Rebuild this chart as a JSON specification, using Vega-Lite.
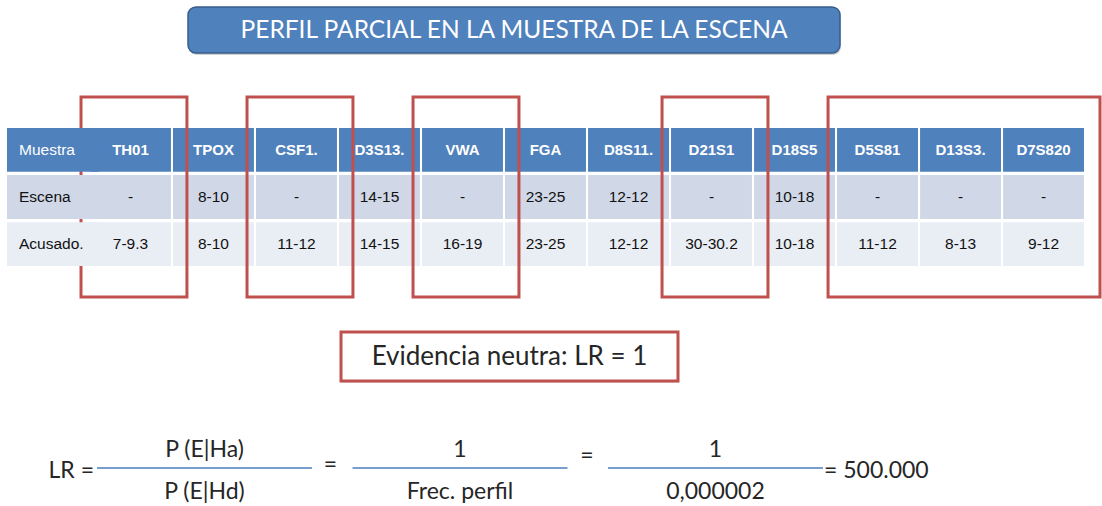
{
  "$schema": "https://vega.github.io/schema/vega-lite/v6.json",
  "width": 1102,
  "height": 506,
  "autosize": {"type": "none"},
  "padding": 0,
  "background": "white",
  "config": {"view": {"stroke": null}},
  "datasets": {
    "titulo": [{"elemento": "titulo", "texto": "PERFIL PARCIAL EN LA MUESTRA DE LA ESCENA"}],
    "evidencia": [{"elemento": "evidencia", "texto": "Evidencia neutra: LR = 1"}],
    "celdas": [
      {"fila": "Muestra", "columna": "Muestra", "valor": "Muestra"},
      {"fila": "Muestra", "columna": "TH01", "valor": "TH01"},
      {"fila": "Muestra", "columna": "TPOX", "valor": "TPOX"},
      {"fila": "Muestra", "columna": "CSF1.", "valor": "CSF1."},
      {"fila": "Muestra", "columna": "D3S13.", "valor": "D3S13."},
      {"fila": "Muestra", "columna": "VWA", "valor": "VWA"},
      {"fila": "Muestra", "columna": "FGA", "valor": "FGA"},
      {"fila": "Muestra", "columna": "D8S11.", "valor": "D8S11."},
      {"fila": "Muestra", "columna": "D21S1", "valor": "D21S1"},
      {"fila": "Muestra", "columna": "D18S5", "valor": "D18S5"},
      {"fila": "Muestra", "columna": "D5S81", "valor": "D5S81"},
      {"fila": "Muestra", "columna": "D13S3.", "valor": "D13S3."},
      {"fila": "Muestra", "columna": "D7S820", "valor": "D7S820"},
      {"fila": "Escena", "columna": "Muestra", "valor": "Escena"},
      {"fila": "Escena", "columna": "TH01", "valor": "-"},
      {"fila": "Escena", "columna": "TPOX", "valor": "8-10"},
      {"fila": "Escena", "columna": "CSF1.", "valor": "-"},
      {"fila": "Escena", "columna": "D3S13.", "valor": "14-15"},
      {"fila": "Escena", "columna": "VWA", "valor": "-"},
      {"fila": "Escena", "columna": "FGA", "valor": "23-25"},
      {"fila": "Escena", "columna": "D8S11.", "valor": "12-12"},
      {"fila": "Escena", "columna": "D21S1", "valor": "-"},
      {"fila": "Escena", "columna": "D18S5", "valor": "10-18"},
      {"fila": "Escena", "columna": "D5S81", "valor": "-"},
      {"fila": "Escena", "columna": "D13S3.", "valor": "-"},
      {"fila": "Escena", "columna": "D7S820", "valor": "-"},
      {"fila": "Acusado.", "columna": "Muestra", "valor": "Acusado."},
      {"fila": "Acusado.", "columna": "TH01", "valor": "7-9.3"},
      {"fila": "Acusado.", "columna": "TPOX", "valor": "8-10"},
      {"fila": "Acusado.", "columna": "CSF1.", "valor": "11-12"},
      {"fila": "Acusado.", "columna": "D3S13.", "valor": "14-15"},
      {"fila": "Acusado.", "columna": "VWA", "valor": "16-19"},
      {"fila": "Acusado.", "columna": "FGA", "valor": "23-25"},
      {"fila": "Acusado.", "columna": "D8S11.", "valor": "12-12"},
      {"fila": "Acusado.", "columna": "D21S1", "valor": "30-30.2"},
      {"fila": "Acusado.", "columna": "D18S5", "valor": "10-18"},
      {"fila": "Acusado.", "columna": "D5S81", "valor": "11-12"},
      {"fila": "Acusado.", "columna": "D13S3.", "valor": "8-13"},
      {"fila": "Acusado.", "columna": "D7S820", "valor": "9-12"}
    ],
    "marcos": [
      {"desde": "TH01", "hasta": "TH01"},
      {"desde": "CSF1.", "hasta": "CSF1."},
      {"desde": "VWA", "hasta": "VWA"},
      {"desde": "D21S1", "hasta": "D21S1"},
      {"desde": "D5S81", "hasta": "D7S820"}
    ],
    "formula": [
      {"termino": "f1", "numerador": "P (E|Ha)", "denominador": "P (E|Hd)", "signo": "LR ="},
      {"termino": "f2", "numerador": "1", "denominador": "Frec. perfil", "signo": "="},
      {"termino": "f3", "numerador": "1", "denominador": "0,000002", "signo": "=", "resultado": "= 500.000"}
    ]
  },
  "layer": [
    {
      "data": {"name": "titulo"},
      "encoding": {
        "x": {"field": "elemento", "type": "nominal", "axis": null, "scale": {"type": "band", "range": [188, 840], "paddingInner": 0, "paddingOuter": 0}},
        "y": {"field": "elemento", "type": "nominal", "axis": null, "scale": {"type": "band", "range": [7, 53], "paddingInner": 0, "paddingOuter": 0}}
      },
      "layer": [
        {"mark": {"type": "rect", "fill": "#000000", "opacity": 0.18, "cornerRadius": 8, "xOffset": 1, "x2Offset": 2, "yOffset": 2, "y2Offset": 3}},
        {"mark": {"type": "rect", "fill": "#4F81BD", "stroke": "#385D8A", "strokeWidth": 1.5, "cornerRadius": 8}},
        {"mark": {"type": "text", "color": "white", "font": "Lato", "fontSize": 24.5, "dy": 1}, "encoding": {"text": {"field": "texto"}}}
      ]
    },
    {
      "data": {"name": "celdas"},
      "encoding": {
        "y": {"field": "fila", "type": "nominal", "axis": null, "scale": {"type": "band", "domain": ["Muestra", "Escena", "Acusado."], "range": [128, 266], "paddingInner": 0.07, "paddingOuter": 0}}
      },
      "layer": [
        {
          "transform": [{"filter": "datum.columna !== 'Muestra'"}],
          "encoding": {
            "x": {"field": "columna", "type": "nominal", "axis": null, "scale": {"type": "band", "domain": ["Muestra", "TH01", "TPOX", "CSF1.", "D3S13.", "VWA", "FGA", "D8S11.", "D21S1", "D18S5", "D5S81", "D13S3.", "D7S820"], "range": [7, 1084], "paddingInner": 0.025, "paddingOuter": 0}}
          },
          "layer": [
            {
              "mark": {"type": "rect"},
              "encoding": {
                "color": {"field": "fila", "type": "nominal", "legend": null, "scale": {"domain": ["Muestra", "Escena", "Acusado."], "range": ["#4F81BD", "#D0D8E8", "#E9EDF4"]}}
              }
            },
            {
              "transform": [{"filter": "datum.fila === 'Muestra'"}],
              "mark": {"type": "text", "color": "white", "font": "Liberation Sans", "fontSize": 15, "fontWeight": "bold"},
              "encoding": {"text": {"field": "valor"}}
            },
            {
              "transform": [{"filter": "datum.fila !== 'Muestra'"}],
              "mark": {"type": "text", "color": "#111111", "font": "Liberation Sans", "fontSize": 15.5},
              "encoding": {"text": {"field": "valor"}}
            },
            {
              "data": {"name": "marcos"},
              "mark": {"type": "rect", "fillOpacity": 0, "stroke": "#C0504D", "strokeWidth": 3, "xOffset": -9, "x2Offset": 16, "yOffset": -31, "y2Offset": 31},
              "encoding": {
                "x": {"field": "desde", "type": "nominal", "bandPosition": 0},
                "x2": {"field": "hasta", "bandPosition": 1},
                "y": {"datum": "Muestra", "type": "nominal", "bandPosition": 0},
                "y2": {"datum": "Acusado.", "bandPosition": 1}
              }
            }
          ]
        },
        {
          "transform": [{"filter": "datum.columna === 'Muestra'"}],
          "encoding": {
            "x": {"field": "columna", "type": "nominal", "axis": null, "scale": {"type": "band", "domain": ["Muestra"], "range": [7, 99], "paddingInner": 0, "paddingOuter": 0}}
          },
          "layer": [
            {
              "mark": {"type": "rect", "x2Offset": -2},
              "encoding": {
                "color": {"field": "fila", "type": "nominal", "legend": null, "scale": {"domain": ["Muestra", "Escena", "Acusado."], "range": ["#4F81BD", "#D0D8E8", "#E9EDF4"]}}
              }
            },
            {
              "mark": {"type": "text", "align": "left", "dx": 12, "font": "Liberation Sans", "fontSize": 15.5},
              "encoding": {
                "x": {"field": "columna", "type": "nominal", "bandPosition": 0},
                "text": {"field": "valor"},
                "color": {"condition": {"test": "datum.fila === 'Muestra'", "value": "white"}, "value": "#111111"}
              }
            }
          ]
        }
      ],
      "resolve": {"scale": {"x": "independent"}}
    },
    {
      "data": {"name": "evidencia"},
      "encoding": {
        "x": {"field": "elemento", "type": "nominal", "axis": null, "scale": {"type": "band", "range": [341, 678], "paddingInner": 0, "paddingOuter": 0}},
        "y": {"field": "elemento", "type": "nominal", "axis": null, "scale": {"type": "band", "range": [332, 381], "paddingInner": 0, "paddingOuter": 0}}
      },
      "layer": [
        {"mark": {"type": "rect", "fill": "#000000", "opacity": 0.12, "xOffset": 1, "x2Offset": 3, "yOffset": 2, "y2Offset": 3}},
        {"mark": {"type": "rect", "fill": "white", "stroke": "#C0504D", "strokeWidth": 3}},
        {"mark": {"type": "text", "color": "#262626", "font": "Lato", "fontSize": 26}, "encoding": {"text": {"field": "texto"}}}
      ]
    },
    {
      "data": {"name": "formula"},
      "encoding": {
        "x": {"field": "termino", "type": "nominal", "axis": null, "scale": {"type": "band", "domain": ["f1", "f2", "f3"], "range": [97, 823], "paddingInner": 0.1585, "paddingOuter": 0}},
        "y": {"datum": "barra", "type": "nominal", "axis": null, "scale": {"type": "point", "domain": ["numerador", "barra", "denominador"], "range": [450, 492], "padding": 0}}
      },
      "layer": [
        {
          "mark": {"type": "rule", "color": "#4A7EBB", "strokeWidth": 1.5, "yOffset": -3},
          "encoding": {
            "x": {"field": "termino", "type": "nominal", "bandPosition": 0},
            "x2": {"field": "termino", "bandPosition": 1}
          }
        },
        {
          "mark": {"type": "text", "color": "#262626", "font": "Lato", "fontSize": 23},
          "encoding": {"y": {"datum": "numerador", "type": "nominal"}, "text": {"field": "numerador"}}
        },
        {
          "mark": {"type": "text", "color": "#262626", "font": "Lato", "fontSize": 23},
          "encoding": {"y": {"datum": "denominador", "type": "nominal"}, "text": {"field": "denominador"}}
        },
        {
          "transform": [{"filter": "datum.termino === 'f1'"}],
          "mark": {"type": "text", "color": "#262626", "font": "Lato", "fontSize": 23, "align": "right", "dx": -3},
          "encoding": {"x": {"field": "termino", "type": "nominal", "bandPosition": 0}, "text": {"field": "signo"}}
        },
        {
          "transform": [{"filter": "datum.termino === 'f2'"}],
          "mark": {"type": "text", "color": "#262626", "font": "Lato", "fontSize": 23, "align": "center", "dx": -22, "dy": -6},
          "encoding": {"x": {"field": "termino", "type": "nominal", "bandPosition": 0}, "text": {"field": "signo"}}
        },
        {
          "transform": [{"filter": "datum.termino === 'f3'"}],
          "mark": {"type": "text", "color": "#262626", "font": "Lato", "fontSize": 23, "align": "center", "dx": -21, "dy": -15},
          "encoding": {"x": {"field": "termino", "type": "nominal", "bandPosition": 0}, "text": {"field": "signo"}}
        },
        {
          "transform": [{"filter": "isValid(datum.resultado)"}],
          "mark": {"type": "text", "color": "#262626", "font": "Lato", "fontSize": 23, "align": "left", "dx": 1},
          "encoding": {"x": {"field": "termino", "type": "nominal", "bandPosition": 1}, "text": {"field": "resultado"}}
        }
      ]
    }
  ],
  "resolve": {"scale": {"x": "independent", "y": "independent", "color": "independent"}}
}
